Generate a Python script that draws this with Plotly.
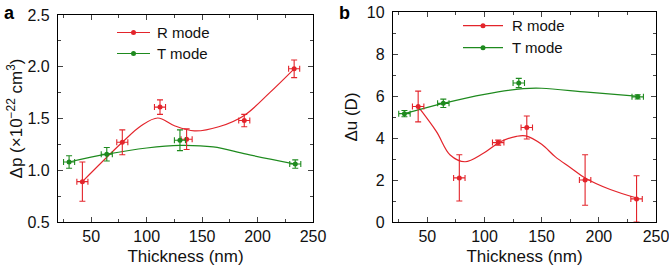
import plotly.graph_objects as go

RED = "#e3242b"
GREEN = "#1e8a1e"

# ---- Panel a data ----
a_R_x = [42, 78, 112, 136, 188, 233]
a_R_y = [0.89, 1.27, 1.61, 1.30, 1.48, 1.98]
a_R_yerr = [0.19, 0.12, 0.07, 0.10, 0.06, 0.085]
a_T_x = [30, 64, 130, 234]
a_T_y = [1.08, 1.155, 1.29, 1.06]
a_T_yerr = [0.06, 0.065, 0.10, 0.04]
a_R_curve_x = [42, 78, 95, 110, 125, 143, 165, 188, 211, 233]
a_R_curve_y = [0.89, 1.27, 1.43, 1.505, 1.43, 1.38, 1.42, 1.53, 1.75, 1.98]
a_T_curve_x = [30, 64, 100, 130, 160, 190, 234]
a_T_curve_y = [1.08, 1.155, 1.215, 1.24, 1.225, 1.155, 1.06]

# ---- Panel b data ----
b_R_x = [42, 78, 112, 137, 188, 233]
b_R_y = [5.5, 2.1, 3.78, 4.5, 2.0, 1.1]
b_R_yerr = [0.73, 1.1, 0.12, 0.55, 1.2, 1.1]
b_T_x = [30, 64, 130, 234]
b_T_y = [5.16, 5.65, 6.62, 5.96]
b_T_yerr = [0.15, 0.2, 0.22, 0.1]
b_R_curve_x = [42, 58, 70, 83, 99, 114, 128, 136, 150, 162, 175, 188, 210, 234]
b_R_curve_y = [5.49, 4.3, 3.19, 2.87, 3.27, 3.82, 4.08, 4.1, 3.7, 3.1, 2.6, 2.1, 1.55, 1.13]
b_T_curve_x = [30, 64, 100, 134, 150, 190, 235]
b_T_curve_y = [5.16, 5.65, 6.08, 6.35, 6.37, 6.18, 5.98]

series_names = ["R mode", "T mode"]
XERR = 5

fig = go.Figure()


def add_panel(xa, ya, rx, ry, rerr, tx, ty, terr, rcx, rcy, tcx, tcy):
    for cx, cy, col in [(rcx, rcy, RED), (tcx, tcy, GREEN)]:
        fig.add_trace(go.Scatter(x=cx, y=cy, mode="lines", line=dict(color=col, width=1.2, shape="spline", smoothing=1.0),
                                 xaxis=xa, yaxis=ya, showlegend=False, hoverinfo="skip"))
    for px, py, pe, col in [(rx, ry, rerr, RED), (tx, ty, terr, GREEN)]:
        fig.add_trace(go.Scatter(x=px, y=py, mode="markers", marker=dict(color=col, size=5),
                                 error_y=dict(type="data", array=pe, color=col, thickness=1.1, width=3),
                                 error_x=dict(type="constant", value=XERR, color=col, thickness=1.1, width=3),
                                 xaxis=xa, yaxis=ya, showlegend=False))


add_panel("x", "y", a_R_x, a_R_y, a_R_yerr, a_T_x, a_T_y, a_T_yerr,
          a_R_curve_x, a_R_curve_y, a_T_curve_x, a_T_curve_y)
add_panel("x2", "y2", b_R_x, b_R_y, b_R_yerr, b_T_x, b_T_y, b_T_yerr,
          b_R_curve_x, b_R_curve_y, b_T_curve_x, b_T_curve_y)

FAM = "Liberation Sans, Arial, sans-serif"
TICKFONT = dict(family=FAM, size=16, color="#111")
TITLEFONT = dict(family=FAM, size=17, color="#111")
LEGFONT = dict(family=FAM, size=15, color="#111")
W, H = 669, 268

# manual legends (pixel positions)
shapes = []
annotations = []
for (x0, x1, tx, ys) in [(117, 150, 155, (32.5, 53.5)), (463, 503, 510, (25.7, 47.7))]:
    for name, col, yy in zip(series_names, [RED, GREEN], ys):
        shapes.append(dict(type="line", xref="paper", yref="paper", x0=x0 / W, x1=x1 / W,
                           y0=1 - yy / H, y1=1 - yy / H, line=dict(color=col, width=1.2)))
        xc = (x0 + x1) / 2
        shapes.append(dict(type="circle", xref="paper", yref="paper", x0=(xc - 2.5) / W, x1=(xc + 2.5) / W,
                           y0=1 - (yy + 2.5) / H, y1=1 - (yy - 2.5) / H, fillcolor=col, line=dict(color=col, width=0)))
        annotations.append(dict(text=name, x=tx / W, y=1 - yy / H, xref="paper", yref="paper", xanchor="left",
                                yanchor="middle", showarrow=False, font=LEGFONT))

annotations += [
    dict(text="<b>a</b>", x=2 / W, y=1 - 1 / H, xref="paper", yref="paper", xanchor="left", yanchor="top",
         showarrow=False, font=dict(family=FAM, size=18, color="black")),
    dict(text="<b>b</b>", x=337 / W, y=1 - 1 / H, xref="paper", yref="paper", xanchor="left", yanchor="top",
         showarrow=False, font=dict(family=FAM, size=18, color="black")),
]

common_x = dict(range=[20, 250], tickvals=[50, 100, 150, 200, 250], ticks="inside", ticklen=5, tickwidth=1.2,
                showline=True, linecolor="black", linewidth=1.3, mirror="ticks", showgrid=False, zeroline=False,
                automargin=False, ticklabeloverflow="allow",
                tickfont=TICKFONT, minor=dict(tickvals=[25, 75, 125, 175, 225], ticks="inside", ticklen=3, tickwidth=1.2),
                title=dict(text="Thickness (nm)", font=TITLEFONT, standoff=5))
common_y = dict(ticks="inside", ticklen=5, tickwidth=1.2, showline=True, linecolor="black", linewidth=1.3,
                mirror="ticks", showgrid=False, zeroline=False, tickfont=TICKFONT, ticklabelstandoff=4,
                automargin=False, ticklabeloverflow="allow")

fig.update_layout(
    width=W, height=H, margin=dict(l=0, r=0, t=0, b=0, autoexpand=False), showlegend=False,
    paper_bgcolor="white", plot_bgcolor="white", font=TICKFONT,
    xaxis=dict(common_x, domain=[58 / W, 313 / W], anchor="y"),
    yaxis=dict(common_y, domain=[(H - 222) / H, (H - 15) / H], anchor="x", range=[0.5, 2.5],
               tickvals=[0.5, 1.0, 1.5, 2.0, 2.5], ticktext=["0.5", "1.0", "1.5", "2.0", "2.5"],
               minor=dict(tickvals=[0.75, 1.25, 1.75, 2.25], ticks="inside", ticklen=3, tickwidth=1.2),
               title=dict(text="Δp (×10<sup>−22</sup> cm<sup>3</sup>)", font=TITLEFONT, standoff=0)),
    xaxis2=dict(common_x, domain=[393 / W, 656 / W], anchor="y2"),
    yaxis2=dict(common_y, domain=[(H - 222) / H, (H - 12) / H], anchor="x2", range=[0, 10],
                tickvals=[0, 2, 4, 6, 8, 10],
                minor=dict(tickvals=[1, 3, 5, 7, 9], ticks="inside", ticklen=3, tickwidth=1.2),
                title=dict(text="Δu (D)", font=TITLEFONT, standoff=4)),
    shapes=shapes,
    annotations=annotations,
)

fig.write_html("out.html", config={"displayModeBar": False},
               post_script="document.body.style.margin='0';document.body.style.padding='0';")
